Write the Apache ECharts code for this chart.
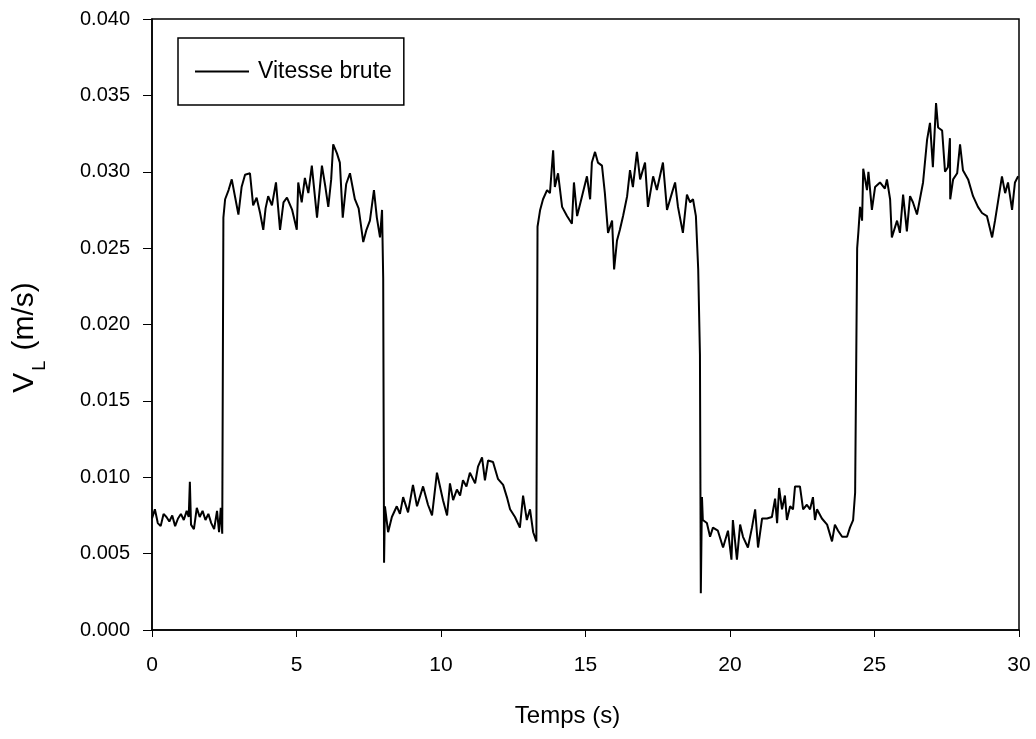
<!DOCTYPE html>
<html>
<head>
<meta charset="utf-8">
<script src="https://cdn.jsdelivr.net/npm/echarts@6/dist/echarts.min.js"></script>
<style>
  html, body { margin: 0; padding: 0; background: #fff; }
  #main { width: 1036px; height: 739px; }
</style>
</head>
<body>
<div id="main"></div>
<script>
// temps (s) et vitesse brute (m/s)
var temps = [
  0, 0.1, 0.2, 0.3, 0.4, 0.5, 0.6, 0.7, 0.8, 0.9, 1.0, 1.1, 1.2, 1.27, 1.31, 1.35, 1.45, 1.55, 1.65, 1.75,
  1.85, 1.95, 2.05, 2.15, 2.25, 2.32, 2.38, 2.43,
  2.47, 2.53, 2.65, 2.76, 2.88, 2.99, 3.1, 3.22, 3.39, 3.5, 3.62, 3.74, 3.85, 3.93, 4.02, 4.15, 4.29, 4.43,
  4.55, 4.67, 4.85, 5.01, 5.06, 5.18, 5.29, 5.41, 5.53, 5.71, 5.8, 5.88, 6.0, 6.1, 6.2, 6.27, 6.4, 6.5, 6.6,
  6.72, 6.85, 7.02, 7.15, 7.31, 7.42, 7.54, 7.68, 7.78, 7.89, 7.96, 8.0,
  8.03, 8.06, 8.17, 8.3, 8.47, 8.58, 8.69, 8.86, 9.03, 9.17, 9.38, 9.55, 9.69, 9.86, 10.07, 10.21, 10.31,
  10.42, 10.55, 10.66, 10.76, 10.88, 11.0, 11.18, 11.28, 11.42, 11.52, 11.63, 11.8, 11.97, 12.15, 12.28,
  12.39, 12.56, 12.73, 12.84, 12.97, 13.08, 13.19, 13.3,
  13.34, 13.43, 13.53, 13.67, 13.77, 13.88, 13.94, 14.05, 14.19, 14.36, 14.53, 14.6, 14.71, 14.88, 15.05,
  15.16, 15.22, 15.33, 15.43, 15.57, 15.67, 15.78, 15.92, 15.99, 16.09, 16.19, 16.3, 16.44, 16.54, 16.64,
  16.78, 16.89, 17.06, 17.16, 17.34, 17.47, 17.68, 17.82, 17.99, 18.1, 18.2, 18.37, 18.51, 18.62, 18.72,
  18.82, 18.9, 18.96,
  18.99, 19.03, 19.06, 19.2, 19.31, 19.41, 19.58, 19.76, 19.93, 20.05, 20.1, 20.24, 20.35, 20.45, 20.62,
  20.76, 20.87, 20.97, 21.11, 21.28, 21.45, 21.56, 21.63, 21.7, 21.8, 21.9, 21.97, 22.08, 22.18, 22.25,
  22.42, 22.53, 22.66, 22.77, 22.87, 22.94, 23.01, 23.18, 23.36, 23.53, 23.63, 23.74, 23.88, 24.05, 24.15,
  24.26, 24.33,
  24.4, 24.44, 24.5, 24.57, 24.61, 24.74, 24.79, 24.91, 25.02, 25.19, 25.36, 25.43, 25.54, 25.6, 25.78,
  25.88, 25.99, 26.12, 26.23, 26.33, 26.47, 26.57, 26.68, 26.82, 26.92, 27.02, 27.13, 27.2, 27.34, 27.44,
  27.54, 27.61, 27.62, 27.72, 27.86, 27.96, 28.06, 28.24, 28.41, 28.58, 28.72, 28.89, 29.07, 29.17, 29.27,
  29.41, 29.52, 29.62, 29.76, 29.86, 29.97
];
var vitesse = [
  0.0073, 0.0079, 0.0070, 0.0068, 0.0076, 0.0074, 0.0071, 0.0075, 0.0068, 0.0073, 0.0076, 0.0072, 0.0078,
  0.0074, 0.0097, 0.0069, 0.0066, 0.0080, 0.0074, 0.0078, 0.0072, 0.0076, 0.0070, 0.0066, 0.0078, 0.0064,
  0.0080, 0.0063,
  0.0270, 0.0282, 0.0288, 0.0295, 0.0283, 0.0272, 0.0290, 0.0298, 0.0299, 0.0278, 0.0283, 0.0273, 0.0262,
  0.0276, 0.0284, 0.0278, 0.0293, 0.0262, 0.0280, 0.0283, 0.0275, 0.0262, 0.0293, 0.0280, 0.0296, 0.0286,
  0.0304, 0.0270, 0.0288, 0.0304, 0.0290, 0.0277, 0.0295, 0.0318, 0.0312, 0.0306, 0.0270, 0.0292, 0.0299,
  0.0282, 0.0276, 0.0254, 0.0262, 0.0268, 0.0288, 0.0270, 0.0257, 0.0275, 0.0230,
  0.0044, 0.0081, 0.0064, 0.0074, 0.0081, 0.0076, 0.0087, 0.0077, 0.0095, 0.0081, 0.0094, 0.0082, 0.0075,
  0.0103, 0.0085, 0.0075, 0.0096, 0.0085, 0.0092, 0.0088, 0.0098, 0.0094, 0.0103, 0.0096, 0.0107, 0.0113,
  0.0098, 0.0111, 0.0110, 0.0099, 0.0095, 0.0087, 0.0079, 0.0074, 0.0067, 0.0088, 0.0072, 0.0079, 0.0064,
  0.0058,
  0.0264, 0.0275, 0.0282, 0.0288, 0.0286, 0.0314, 0.0290, 0.0299, 0.0277, 0.0271, 0.0266, 0.0293, 0.0271,
  0.0284, 0.0297, 0.0282, 0.0306, 0.0313, 0.0306, 0.0304, 0.0286, 0.0260, 0.0268, 0.0236, 0.0255, 0.0262,
  0.0271, 0.0284, 0.0301, 0.0290, 0.0313, 0.0295, 0.0306, 0.0277, 0.0297, 0.0288, 0.0306, 0.0275, 0.0286,
  0.0293, 0.0277, 0.0260, 0.0285, 0.0280, 0.0282, 0.0271, 0.0236, 0.0180,
  0.0024, 0.0087, 0.0072, 0.0070, 0.0061, 0.0067, 0.0065, 0.0054, 0.0065, 0.0046, 0.0072, 0.0046, 0.0069,
  0.0061, 0.0054, 0.0067, 0.0079, 0.0054, 0.0073, 0.0073, 0.0074, 0.0086, 0.0070, 0.0093, 0.0079, 0.0088,
  0.0072, 0.0081, 0.0079, 0.0094, 0.0094, 0.0079, 0.0082, 0.0079, 0.0087, 0.0072, 0.0079, 0.0073, 0.0069,
  0.0058, 0.0069, 0.0065, 0.0061, 0.0061, 0.0067, 0.0072, 0.0090,
  0.0250, 0.0260, 0.0277, 0.0268, 0.0302, 0.0288, 0.0300, 0.0275, 0.0290, 0.0293, 0.0289, 0.0295, 0.0282,
  0.0257, 0.0268, 0.0260, 0.0285, 0.0261, 0.0284, 0.0280, 0.0272, 0.0282, 0.0293, 0.0321, 0.0332, 0.0303,
  0.0345, 0.0329, 0.0327, 0.0300, 0.0303, 0.0322, 0.0282, 0.0295, 0.0299, 0.0318, 0.0301, 0.0295, 0.0284,
  0.0277, 0.0273, 0.0271, 0.0257, 0.0268, 0.0280, 0.0297, 0.0286, 0.0293, 0.0275, 0.0293, 0.0297
];

var points = temps.map(function (t, i) { return [t, vitesse[i]]; });

var myChart = echarts.init(document.getElementById('main'));

var police = 'Liberation Sans, Arial, sans-serif';

option = {
    animation: false,
    backgroundColor: '#fff',
    grid: {
        left: 152, right: 17, top: 19, bottom: 109,
        show: true, borderColor: '#000', borderWidth: 1.5
    },
    legend: {
        left: 178, top: 38,
        padding: [22, 12, 22, 17],
        itemWidth: 54, itemHeight: 2, itemGap: 10,
        borderColor: '#000', borderWidth: 1.5,
        textStyle: { fontFamily: police, fontSize: 23, color: '#000', padding: [0, 0, 0, 4] },
        icon: 'rect',
        data: ['Vitesse brute']
    },
    xAxis: {
        type: 'value', min: 0, max: 30, interval: 5,
        name: 'Temps (s)', nameLocation: 'middle', nameGap: 74,
        nameTextStyle: { fontFamily: police, fontSize: 24, color: '#000', padding: [0, 36, 0, 0] },
        axisLine: { lineStyle: { color: '#000', width: 1.5 } },
        axisTick: { inside: false, length: 7, lineStyle: { color: '#000' } },
        axisLabel: { fontFamily: police, fontSize: 21, color: '#000', margin: 25 },
        splitLine: { show: false }
    },
    yAxis: {
        type: 'value', min: 0, max: 0.04, interval: 0.005,
        name: '{v|V}{s|L}{v| (m/s)}', nameLocation: 'middle', nameGap: 112, nameRotate: 90,
        nameTextStyle: {
            fontFamily: police, fontSize: 30, color: '#000', padding: [0, 26, 0, 0],
            rich: {
                v: { fontFamily: police, fontSize: 30, color: '#000', lineHeight: 36, verticalAlign: 'bottom' },
                s: { fontFamily: police, fontSize: 18, color: '#000', lineHeight: 36, verticalAlign: 'bottom', padding: [0, 2, -9, 2] }
            }
        },
        axisLine: { show: true, lineStyle: { color: '#000', width: 1.5 } },
        axisTick: { show: true, inside: false, length: 9, lineStyle: { color: '#000' } },
        axisLabel: {
            fontFamily: police, fontSize: 20, color: '#000', margin: 22,
            formatter: function (v) { return v.toFixed(3); }
        },
        splitLine: { show: false }
    },
    series: [
        {
            name: 'Vitesse brute',
            type: 'line',
            data: points,
            showSymbol: false,
            symbol: 'none',
            lineStyle: { color: '#000', width: 2 },
            itemStyle: { color: '#000' }
        }
    ]
};

myChart.setOption(option);
</script>
</body>
</html>
